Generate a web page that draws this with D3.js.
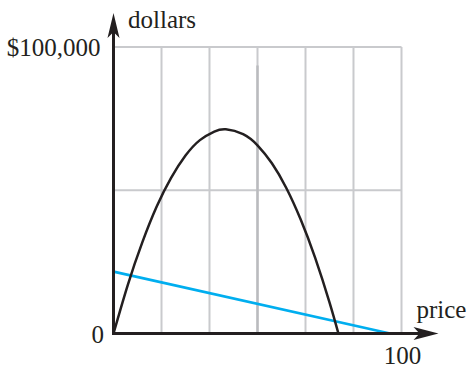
<!DOCTYPE html>
<html>
<head>
<meta charset="utf-8">
<script src="https://cdn.jsdelivr.net/npm/d3@7"></script>
<style>
  html, body { margin: 0; padding: 0; background: #fff; }
  svg { display: block; }
</style>
</head>
<body>
<svg id="chart" width="474" height="366"></svg>
<script>
// ---- data ----
const curvePrices  = [0, 5, 10, 15, 20, 25, 30, 35, 39, 45, 50, 55, 60, 65, 70, 75, 78.1];
const curveDollars = [0, 17100, 31800, 44300, 54300, 62100, 67500, 70500, 71300, 69600, 65700, 59400, 50800, 39800, 26500, 10900, 0];
const linePrices   = [0, 96];
const lineDollars  = [21600, 0];
const gridPrices   = [16.67, 33.33, 50, 66.67, 83.33, 100];
const gridDollars  = [50000, 100000];
const yTickValues  = [0, 100000];
const yTickLabels  = ["0", "$100,000"];
const xTickValues  = [100];
const xTickLabels  = ["100"];
const xAxisTitle   = "price";
const yAxisTitle   = "dollars";

// ---- scales ----
const x = d3.scaleLinear().domain([0, 100]).range([113.5, 401.5]);
const y = d3.scaleLinear().domain([0, 100000]).range([333.5, 47]);

const svg = d3.select("#chart");
const ink = "#231f20";

// grid
const grid = svg.append("g");
grid.selectAll("line.v").data(gridPrices).enter().append("line")
  .attr("x1", d => x(d)).attr("x2", d => x(d))
  .attr("y1", y(100000)).attr("y2", y(0))
  .attr("stroke", "#c9cacd").attr("stroke-width", 2);
grid.selectAll("line.h").data(gridDollars).enter().append("line")
  .attr("x1", x(0)).attr("x2", x(100))
  .attr("y1", d => y(d)).attr("y2", d => y(d))
  .attr("stroke", "#c9cacd").attr("stroke-width", 2);
grid.append("line")
  .attr("x1", x(50)).attr("x2", x(50))
  .attr("y1", y(93500)).attr("y2", y(0))
  .attr("stroke", "#babbbe").attr("stroke-width", 2.4);

// blue line
const lineData = linePrices.map((p, i) => [p, lineDollars[i]]);
svg.append("path")
  .attr("d", d3.line().x(d => x(d[0])).y(d => y(d[1]))(lineData))
  .attr("fill", "none").attr("stroke", "#00aeef").attr("stroke-width", 2.6);

// black curve
const curveData = curvePrices.map((p, i) => [p, curveDollars[i]]);
svg.append("path")
  .attr("d", d3.line().curve(d3.curveNatural).x(d => x(d[0])).y(d => y(d[1]))(curveData))
  .attr("fill", "none").attr("stroke", ink).attr("stroke-width", 2.5);

// axes
const x0 = x(0), y0 = y(0);
const xTip = 438.5, yTip = 13;
svg.append("line").attr("x1", x0).attr("x2", xTip - 8).attr("y1", y0).attr("y2", y0)
  .attr("stroke", ink).attr("stroke-width", 3);
svg.append("line").attr("x1", x0).attr("x2", x0).attr("y1", y0 + 1.5).attr("y2", yTip + 8)
  .attr("stroke", ink).attr("stroke-width", 3);
svg.append("path")
  .attr("d", `M${xTip},${y0} L${xTip - 25},${y0 - 6.5} L${xTip - 19},${y0} L${xTip - 25},${y0 + 6.5} Z`)
  .attr("fill", ink);
svg.append("path")
  .attr("d", `M${x0},${yTip} L${x0 - 6},${yTip + 25} L${x0},${yTip + 19} L${x0 + 6},${yTip + 25} Z`)
  .attr("fill", ink);

// labels
const fs = 25;
function styleText(s) {
  s.attr("font-family", "Liberation Serif").attr("font-size", fs).attr("fill", ink);
}
svg.selectAll("text.ytick").data(yTickValues).enter().append("text")
  .attr("x", d => d === 0 ? 104 : 100.5)
  .attr("y", d => d === 0 ? 343.3 : 56)
  .attr("text-anchor", "end")
  .call(styleText)
  .text((d, i) => yTickLabels[i]);
svg.selectAll("text.xtick").data(xTickValues).enter().append("text")
  .attr("x", d => x(d) + 1)
  .attr("y", 363.5)
  .attr("text-anchor", "middle")
  .call(styleText)
  .text((d, i) => xTickLabels[i]);
svg.append("text").attr("x", 416.5).attr("y", 318).call(styleText).text(xAxisTitle);
svg.append("text").attr("x", 128).attr("y", 28.3).call(styleText).text(yAxisTitle);
</script>
</body>
</html>
